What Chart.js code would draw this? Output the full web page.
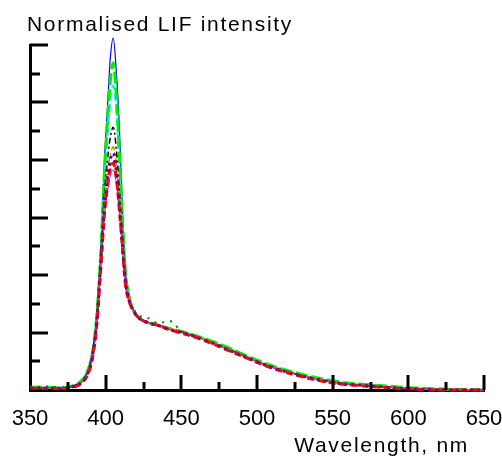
<!DOCTYPE html>
<html>
<script src="https://cdnjs.cloudflare.com/ajax/libs/Chart.js/4.4.0/chart.umd.min.js"></script>
<body style="margin:0;background:#fff">

<div style="width:502px;height:459px"><canvas id="myChart"></canvas></div>

<script>
var wavelength = [350,360,370,375,380,384,388,391,394,397,399,401,403,405,407,409,411,413,415,418,422,428,435,442,450,
  460,470,480,490,500,510,520,530,540,550,560,570,580,590,600,610,620,630,640,650];

var blueRun    = [0.04,0.04,0.03,0.05,0.09,0.16,0.33,0.62,1.28,2.6,3.9,4.82,5.75,6.12,5.55,4.6,3.2,2.15,1.72,1.42,1.27,1.18,1.12,1.06,1.01,
  0.93,0.83,0.72,0.61,0.50,0.40,0.33,0.25,0.20,0.15,0.11,0.09,0.07,0.05,0.03,0.02,0.01,0.01,0.0,0.0];
var greenRun   = [0.05,0.05,0.04,0.05,0.09,0.15,0.32,0.6,1.25,2.5,3.7,4.6,5.35,5.69,5.15,4.15,3.0,2.05,1.68,1.4,1.25,1.17,1.12,1.07,1.02,
  0.94,0.85,0.75,0.63,0.52,0.42,0.34,0.27,0.21,0.16,0.12,0.10,0.08,0.06,0.04,0.03,0.02,0.01,0.01,0.0];
var cyanRun    = [0.04,0.04,0.04,0.05,0.1,0.18,0.36,0.66,1.3,2.5,3.6,4.35,5.0,5.3,4.85,3.9,2.9,2.0,1.66,1.41,1.26,1.18,1.13,1.07,1.01,
  0.94,0.84,0.74,0.62,0.51,0.41,0.33,0.26,0.2,0.15,0.11,0.09,0.07,0.05,0.03,0.02,0.01,0.0,0.0,0.0];
var blackRun   = [0.04,0.04,0.03,0.04,0.08,0.15,0.31,0.6,1.2,2.4,3.35,3.95,4.38,4.57,4.2,3.5,2.7,1.95,1.62,1.4,1.26,1.18,1.13,1.06,1.01,
  0.93,0.83,0.72,0.61,0.5,0.4,0.32,0.25,0.19,0.14,0.1,0.08,0.06,0.04,0.03,0.02,0.01,0.0,0.0,0.0];
var oliveRun   = [0.04,0.04,0.03,0.04,0.08,0.15,0.3,0.58,1.18,2.35,3.2,3.75,4.08,4.23,3.95,3.3,2.6,1.9,1.6,1.4,1.27,1.19,1.14,1.08,1.02,
  0.94,0.84,0.73,0.62,0.5,0.4,0.33,0.26,0.2,0.15,0.11,0.09,0.07,0.05,0.03,0.02,0.01,0.01,0.0,0.0];
var purpleRun  = [0.03,0.03,0.03,0.04,0.07,0.13,0.28,0.55,1.15,2.3,3.1,3.65,4.0,4.12,3.85,3.25,2.55,1.9,1.6,1.4,1.25,1.17,1.12,1.05,1.0,
  0.92,0.82,0.71,0.6,0.49,0.39,0.31,0.24,0.18,0.13,0.1,0.08,0.06,0.04,0.02,0.01,0.0,0.0,0.0,0.0];
var dkGreenRun = [0.05,0.06,0.05,0.05,0.08,0.14,0.3,0.58,1.15,2.25,3.05,3.55,3.9,4.0,3.75,3.2,2.5,1.85,1.58,1.42,1.3,1.25,1.16,1.2,1.03,
  0.92,0.84,0.72,0.62,0.49,0.41,0.32,0.24,0.2,0.14,0.1,0.08,0.06,0.04,0.03,0.01,0.0,0.0,0.0,0.0];
var redRun     = [0.03,0.03,0.02,0.03,0.06,0.12,0.26,0.52,1.1,2.2,3.0,3.5,3.85,3.95,3.7,3.15,2.5,1.85,1.58,1.39,1.25,1.17,1.12,1.05,0.99,
  0.91,0.81,0.7,0.59,0.48,0.38,0.3,0.23,0.17,0.12,0.09,0.07,0.05,0.03,0.02,0.01,0.0,0.0,0.0,0.0];
var magentaRun = [0.04,0.04,0.03,0.04,0.07,0.13,0.28,0.55,1.12,2.2,2.95,3.4,3.72,3.83,3.6,3.1,2.45,1.85,1.58,1.4,1.26,1.18,1.12,1.06,1.0,
  0.92,0.82,0.71,0.6,0.49,0.39,0.31,0.24,0.18,0.13,0.1,0.08,0.06,0.04,0.02,0.01,0.01,0.0,0.0,0.0];

var xTickLabels = [350,400,450,500,550,600,650];
var xMinorTicks = [375,425,475,525,575,625];
var yMajorTicks = [1,2,3,4,5,6];
var yMinorTicks = [0.5,1.5,2.5,3.5,4.5,5.5];

var FONT = '"Liberation Sans", Arial, sans-serif';

function pts(vals) {
  return wavelength.map(function (w, i) { return {x: w, y: vals[i]} })
}

function run(label, vals, color, width, dash) {
  return {
    label: label,
    data: pts(vals),
    borderColor: color,
    borderWidth: width,
    borderDash: dash,
    pointRadius: 0,
    fill: false,
    clip: false,
    cubicInterpolationMode: 'monotone'
  }
}

// inward tick marks + the two axis captions
var axisDecor = {
  id: 'axisDecor',
  afterDraw: function (chart) {
    var ctx = chart.ctx, sx = chart.scales.x, sy = chart.scales.y, a = chart.chartArea;
    ctx.save();
    ctx.strokeStyle = '#000';
    ctx.lineWidth = 3;
    ctx.beginPath();
    xTickLabels.forEach(function (v) {
      if (v === 350) return;
      var px = Math.round(sx.getPixelForValue(v));
      ctx.moveTo(px, a.bottom); ctx.lineTo(px, a.bottom - 15);
    });
    xMinorTicks.forEach(function (v) {
      var px = Math.round(sx.getPixelForValue(v));
      ctx.moveTo(px, a.bottom); ctx.lineTo(px, a.bottom - 8);
    });
    yMajorTicks.forEach(function (v) {
      var py = Math.round(sy.getPixelForValue(v));
      ctx.moveTo(a.left, py); ctx.lineTo(a.left + 18, py);
    });
    yMinorTicks.forEach(function (v) {
      var py = Math.round(sy.getPixelForValue(v));
      ctx.moveTo(a.left, py); ctx.lineTo(a.left + 10, py);
    });
    ctx.stroke();

    ctx.fillStyle = '#000';
    ctx.font = '21px ' + FONT;
    ctx.letterSpacing = '1.7px';
    ctx.textBaseline = 'alphabetic';
    ctx.textAlign = 'left';
    ctx.fillText('Normalised LIF intensity', a.left - 3, 31);
    ctx.textAlign = 'right';
    ctx.fillText('Wavelength, nm', a.right - 15, 452);
    ctx.restore();
  }
};

new Chart("myChart", {
  type: 'line',
  data: {
    datasets: [
      run('Run 9', purpleRun, '#800080', 3, [3, 4]),
      run('Run 8', redRun, '#ff0000', 3, [7, 4]),
      run('Run 7', dkGreenRun, '#008000', 2, [2, 6]),
      run('Run 6', magentaRun, '#ff00ff', 1, []),
      run('Run 5', oliveRun, '#a0a000', 1.5, [8, 3, 2, 3]),
      run('Run 4', blackRun, '#000000', 1.5, [6, 3, 2, 3]),
      run('Run 3', greenRun, '#00ee00', 3, [12, 4]),
      run('Run 2', cyanRun, '#00ffff', 2, [8, 4]),
      run('Run 1', blueRun, '#0000ff', 1.2, [])
    ]
  },
  options: {
    responsive: true,
    maintainAspectRatio: false,
    animation: false,
    layout: { padding: { left: 30, right: 18, top: 45, bottom: 0 } },
    plugins: {
      legend: { display: false },
      tooltip: { enabled: false }
    },
    scales: {
      x: {
        type: 'linear',
        min: 350,
        max: 650,
        grid: { display: false, drawTicks: false },
        border: { display: true, color: '#000', width: 3 },
        afterBuildTicks: function (s) { s.ticks = xTickLabels.map(function (v) { return {value: v} }) },
        afterFit: function (s) {
          s.height = 69;
          s.paddingLeft = 0;
          s.paddingRight = 0;
        },
        ticks: {
          color: '#000',
          padding: 16,
          maxRotation: 0,
          font: { family: FONT, size: 22 }
        }
      },
      y: {
        min: 0,
        max: 6,
        grid: { display: false, drawTicks: false },
        border: { display: true, color: '#000', width: 3 },
        ticks: { display: false },
        afterFit: function (s) {
          s.width = 0;
          s.paddingTop = 0;
          s.paddingBottom = 0;
        }
      }
    }
  },
  plugins: [axisDecor]
});
</script>

</body>
</html>
